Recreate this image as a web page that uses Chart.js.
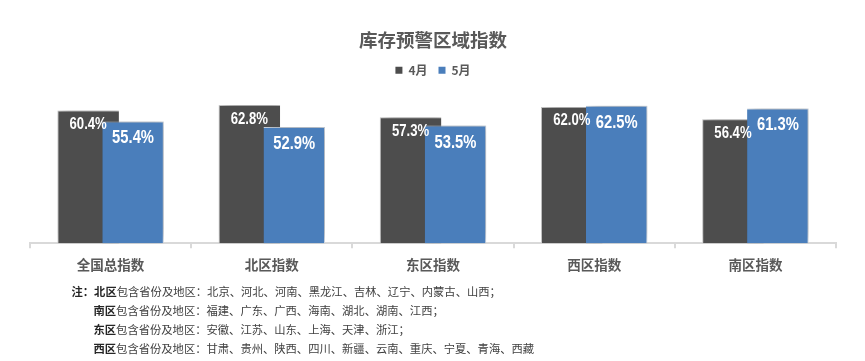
<!DOCTYPE html>
<html><head><meta charset="utf-8">
<script src="https://cdn.jsdelivr.net/npm/chart.js@4"></script>
<style>
html,body{margin:0;padding:0;background:#fff;}
#wrap{position:relative;width:865px;height:361px;overflow:hidden;}
#c{position:absolute;left:0;top:0;}
.note{position:absolute;left:71.5px;top:282px;font-family:"Noto Sans CJK SC","Noto Sans",sans-serif;font-size:11.3px;line-height:19px;color:#404040;white-space:nowrap;}
.note b{color:#262626;font-weight:bold;}
.note .ind{padding-left:22px;}
</style></head>
<body>
<div id="wrap">
<canvas id="c" width="865" height="361"></canvas>
<div class="note">
<div><b>注：</b><b>北区</b>包含省份及地区：北京、河北、河南、黑龙江、吉林、辽宁、内蒙古、山西；</div>
<div class="ind"><b>南区</b>包含省份及地区：福建、广东、广西、海南、湖北、湖南、江西；</div>
<div class="ind"><b>东区</b>包含省份及地区：安徽、江苏、山东、上海、天津、浙江；</div>
<div class="ind"><b>西区</b>包含省份及地区：甘肃、贵州、陕西、四川、新疆、云南、重庆、宁夏、青海、西藏</div>
</div>
</div>
<script>
const categories = ['全国总指数','北区指数','东区指数','西区指数','南区指数'];
const seriesNames = ['4月','5月'];
const aprilValues = [60.4, 62.8, 57.3, 62.0, 56.4];
const mayValues = [55.4, 52.9, 53.5, 62.5, 61.3];
const chartTitle = '库存预警区域指数';
const seriesColors = ['#4d4d4d', '#4a7ebb'];

// Draw datasets in index order (so 5月 overlaps 4月), with a soft shadow, then the value labels.
const barDecor = {
  id: 'barDecor',
  beforeDatasetsDraw(chart) {
    const ctx = chart.ctx;
    const n = chart.data.datasets.length;
    for (let i = 0; i < n; i++) {
      const meta = chart.getDatasetMeta(i);
      if (!meta.visible) continue;
      ctx.save();
      ctx.shadowColor = 'rgba(0,0,0,0.28)';
      ctx.shadowBlur = 12;
      ctx.shadowOffsetX = 3;
      ctx.shadowOffsetY = -3;
      meta.controller.draw();
      ctx.restore();
    }
    for (let i = 0; i < n; i++) {
      const ds = chart.data.datasets[i];
      const meta = chart.getDatasetMeta(i);
      if (!meta.visible) continue;
      meta.data.forEach((bar, j) => {
        const txt = ds.data[j].toFixed(1) + '%';
        const size = i === 0 ? 16 : 18;
        const off = i === 0 ? 14 : 17;
        ctx.save();
        ctx.font = 'bold ' + size + 'px "Liberation Sans Narrow","Liberation Sans",sans-serif';
        ctx.fillStyle = '#ffffff';
        ctx.textAlign = 'center';
        ctx.textBaseline = 'middle';
        ctx.translate(bar.x, bar.y + off);
        ctx.scale(0.82, 1);
        ctx.fillText(txt, 0, 0);
        ctx.restore();
      });
    }
    return false;
  }
};

new Chart(document.getElementById('c'), {
  type: 'bar',
  data: {
    labels: categories,
    datasets: [
      { label: seriesNames[0], data: aprilValues, backgroundColor: seriesColors[0], borderColor: '#cfcfcf', borderWidth: {top:1,left:1,right:0,bottom:0}, borderSkipped: 'bottom',
        barPercentage: 1.37, categoryPercentage: 0.557 },
      { label: seriesNames[1], data: mayValues, backgroundColor: seriesColors[1], borderColor: '#d8e2ee', borderWidth: {top:1,left:0,right:1,bottom:0}, borderSkipped: 'bottom',
        barPercentage: 1.37, categoryPercentage: 0.557 }
    ]
  },
  options: {
    responsive: false,
    animation: false,
    devicePixelRatio: 1,
    layout: { padding: { left: 30, right: 29, top: 0, bottom: 80.5 } },
    plugins: {
      title: {
        display: true, text: chartTitle, color: '#595959',
        font: { family: '"Noto Sans CJK SC"', size: 18.5, weight: 'bold' },
        padding: { top: 29, bottom: 2 }
      },
      legend: {
        display: true, position: 'top',
        labels: {
          color: '#595959', boxWidth: 7, boxHeight: 7, padding: 11,
          font: { family: '"Noto Sans CJK SC"', size: 12, weight: 'bold' },
          generateLabels(chart) {
            return chart.data.datasets.map((ds, i) => ({
              text: ds.label, fillStyle: seriesColors[i], strokeStyle: seriesColors[i],
              lineWidth: 0, hidden: !chart.isDatasetVisible(i), datasetIndex: i, fontColor: '#595959'
            }));
          }
        }
      },
      tooltip: { enabled: false }
    },
    scales: {
      x: {
        grid: { display: true, drawOnChartArea: false, drawTicks: true, tickLength: 5, color: '#d9d9d9', offset: true, lineWidth: 2 },
        border: { display: true, color: '#d9d9d9', width: 2 },
        ticks: { color: '#595959', padding: 8, maxRotation: 0, autoSkip: false,
          font: { family: '"Noto Sans CJK SC"', size: 13.5, weight: 'bold' } }
      },
      y: { display: false, min: 0, max: 71.4 }
    }
  },
  plugins: [barDecor]
});
</script>
</body></html>
